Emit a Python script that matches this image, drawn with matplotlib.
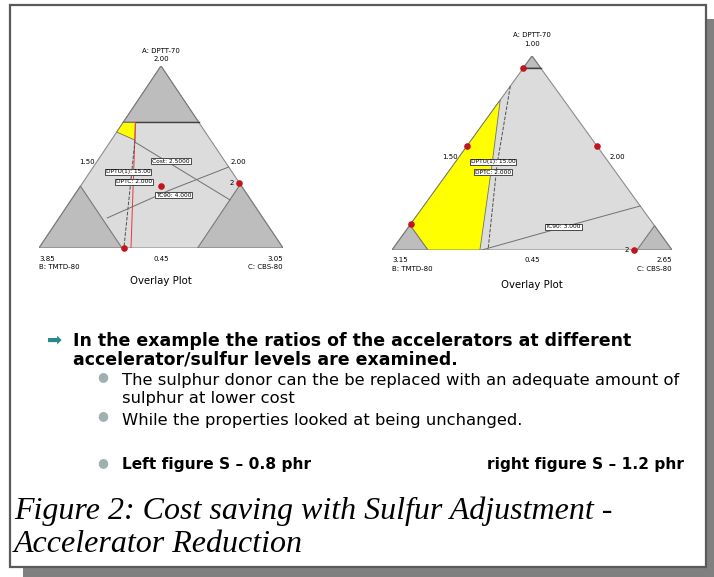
import numpy as np
import matplotlib.pyplot as plt
from matplotlib.patches import Polygon, Rectangle

W, H = 714, 577

# ternary compositions given as (a, b, c) fractions (A top, B left, C right)
left_names = ["A: DPTT-70", "B: TMTD-80", "C: CBS-80"]
left_vertex_vals = ["2.00", "3.85", "3.05"]
left_cuts = (0.69, 0.66, 0.65)
left_yellow = [(0.69, 0.31, 0.0), (0.69, 0.26, 0.05), (0.593, 0.31, 0.097), (0.637, 0.363, 0.0)]
left_red_line = [(0.69, 0.26, 0.05), (0.0, 0.623, 0.377)]
left_dash_line = [(0.593, 0.31, 0.097), (0.0, 0.652, 0.348)]
left_cost_line = [(0.582, 0.316, 0.102), (0.264, 0.085, 0.651)]
left_curve = [(0.165, 0.638, 0.197), (0.319, 0.303, 0.378), (0.445, 0.0, 0.555)]
left_dots = [(0.0, 0.652, 0.348), (0.341, 0.329, 0.330), (0.357, 0.0, 0.643)]
left_boxes = [("Cost: 2.5000", (0.478, 0.220, 0.302)),
              ("DPTU(1): 15.00", (0.418, 0.426, 0.156)),
              ("DPTC: 2.000", (0.363, 0.429, 0.208)),
              ("TC90: 4.000", (0.291, 0.302, 0.407))]

right_names = ["A: DPTT-70", "B: TMTD-80", "C: CBS-80"]
right_vertex_vals = ["1.00", "3.15", "2.65"]
right_cuts = (0.938, 0.871, 0.875)
right_yellow = [(0.129, 0.871, 0.0), (0.773, 0.227, 0.0), (0.438, 0.424, 0.138),
                (0.0, 0.686, 0.314), (0.0, 0.871, 0.129)]
right_dash_line = [(0.845, 0.155, 0.0), (0.438, 0.406, 0.156), (0.0, 0.657, 0.343)]
right_curve = [(0.0, 0.679, 0.321), (0.113, 0.344, 0.543), (0.227, 0.0, 0.773)]
right_dots = [(0.938, 0.062, 0.0), (0.536, 0.464, 0.0), (0.536, 0.0, 0.464),
              (0.134, 0.866, 0.0), (0.0, 0.136, 0.864)]
right_boxes = [("DPTU(1): 15.00", (0.454, 0.412, 0.134)),
               ("DPTC: 2.000", (0.402, 0.438, 0.160)),
               ("TC90: 3.000", (0.119, 0.329, 0.552))]


def tern(pts):
    p = np.array(pts, dtype=float)
    return np.column_stack([p[:, 2] + p[:, 0] / 2, p[:, 0]])


def ternary(ax, cuts, names, vals, yellow, lines, dots, boxes, two_xy, ylab):
    ax.set_xlim(0, 1)
    ax.set_ylim(0, 1)
    ax.axis('off')
    ca, cb, cc = cuts
    ax.add_patch(Polygon(tern([(1, 0, 0), (0, 1, 0), (0, 0, 1)]), closed=True,
                         fc='#dcdcdc', ec='#8c8c8c', lw=0.8, zorder=1))
    corners = [[(1, 0, 0), (ca, 1 - ca, 0), (ca, 0, 1 - ca)],
               [(0, 1, 0), (1 - cb, cb, 0), (0, cb, 1 - cb)],
               [(0, 0, 1), (1 - cc, 0, cc), (0, 1 - cc, cc)]]
    for tri in corners:
        ax.add_patch(Polygon(tern(tri), closed=True, fc='#bdbdbd', ec='#7a7a7a',
                             lw=0.8, zorder=2))
    top = tern(corners[0][1:])
    ax.plot(top[:, 0], top[:, 1], color='#404040', lw=1.0, zorder=3)
    ax.add_patch(Polygon(tern(yellow), closed=True, fc='#ffff00', ec='#707070',
                         lw=0.6, zorder=3))
    for pts, col, ls in lines:
        xy = tern(pts)
        ax.plot(xy[:, 0], xy[:, 1], color=col, ls=ls, lw=0.7, zorder=4)
    d = tern(dots)
    ax.scatter(d[:, 0], d[:, 1], s=14, color='#c0141e', zorder=6, clip_on=False)
    for txt, p in boxes:
        xy = tern([p])[0]
        ax.text(xy[0], xy[1], txt, fontsize=4.2, ha='center', va='center', zorder=7,
                bbox=dict(boxstyle='square,pad=0.15', fc='white', ec='#303030', lw=0.6))
    fs = 5
    ax.text(0.5, ylab[0], names[0], fontsize=fs, ha='center', va='center')
    ax.text(0.5, ylab[1], vals[0], fontsize=fs, ha='center', va='center')
    ax.text(0.0, ylab[2], vals[1], fontsize=fs, ha='left', va='center')
    ax.text(0.0, ylab[3], names[1], fontsize=fs, ha='left', va='center')
    ax.text(0.5, ylab[2], "0.45", fontsize=fs, ha='center', va='center')
    ax.text(1.0, ylab[2], vals[2], fontsize=fs, ha='right', va='center')
    ax.text(1.0, ylab[3], names[2], fontsize=fs, ha='right', va='center')
    ax.text(0.5, ylab[4], "Overlay Plot", fontsize=7.3, ha='center', va='center')
    ax.text(two_xy[0][0], two_xy[0][1], "1.50", fontsize=fs, ha='center', va='center')
    ax.text(two_xy[1][0], two_xy[1][1], "2.00", fontsize=fs, ha='center', va='center')
    ax.text(two_xy[2][0], two_xy[2][1], "2", fontsize=fs, ha='right', va='center')


fig = plt.figure(figsize=(W / 100, H / 100), dpi=100)
bg = fig.add_axes([0, 0, 1, 1])
bg.set_xlim(0, W)
bg.set_ylim(H, 0)
bg.axis('off')

# page frame with drop shadow
bg.add_patch(Rectangle((23, 19), W - 23, H - 19, fc='#808080', ec='none', zorder=0))
bg.add_patch(Rectangle((10, 5), 696, 562, fc='white', ec='#5a5a5a', lw=1.6, zorder=1))

axL = fig.add_axes([39 / W, (H - 248) / H, 244 / W, 182 / H])
ternary(axL, left_cuts, left_names, left_vertex_vals, left_yellow,
        [(left_red_line, '#e8383c', '-'), (left_dash_line, '#505050', '--'),
         (left_cost_line, '#707070', '-'), (left_curve, '#707070', '-')],
        left_dots, left_boxes,
        [(0.197, 0.473), (0.816, 0.473), (0.80, 0.357)],
        [1.082, 1.038, -0.06, -0.104, -0.18])

axR = fig.add_axes([392 / W, (H - 250) / H, 280 / W, 194 / H])
ternary(axR, right_cuts, right_names, right_vertex_vals, right_yellow,
        [(right_dash_line, '#505050', '--'), (right_curve, '#707070', '-')],
        right_dots, right_boxes,
        [(0.207, 0.479), (0.804, 0.479), (0.845, 0.0)],
        [1.108, 1.062, -0.052, -0.098, -0.18])

sans = ['DejaVu Sans']
bg.text(55, 340, "\u27a1", fontsize=13, color='#2a8a8a', ha='center', va='center',
        family=sans, zorder=3)
bg.text(73, 341, "In the example the ratios of the accelerators at different",
        fontsize=12.5, fontweight='bold', family=sans, va='center', zorder=3)
bg.text(73, 359, "accelerator/sulfur levels are examined.",
        fontsize=12.5, fontweight='bold', family=sans, va='center', zorder=3)
for yb in (377, 416, 463):
    bg.text(103, yb, "\u25cf", fontsize=9, color='#9fb0b0', ha='center', va='center',
            family=sans, zorder=3)
bg.text(122, 381, "The sulphur donor can the be replaced with an adequate amount of",
        fontsize=11.8, family=sans, va='center', zorder=3)
bg.text(122, 399, "sulphur at lower cost", fontsize=11.8, family=sans, va='center', zorder=3)
bg.text(122, 420, "While the properties looked at being unchanged.",
        fontsize=11.8, family=sans, va='center', zorder=3)
bg.text(122, 465, "Left figure S \u2013 0.8 phr", fontsize=11.1, fontweight='bold',
        family=sans, va='center', zorder=3)
bg.text(684, 465, "right figure S \u2013 1.2 phr", fontsize=11.1, fontweight='bold',
        family=sans, ha='right', va='center', zorder=3)

serif = ['Liberation Serif', 'DejaVu Serif']
bg.text(14, 511, "Figure 2: Cost saving with Sulfur Adjustment -", fontsize=23,
        style='italic', family=serif, va='center', zorder=3)
bg.text(14, 545, "Accelerator Reduction", fontsize=23, style='italic',
        family=serif, va='center', zorder=3)

fig.savefig('out.png', dpi=100)
